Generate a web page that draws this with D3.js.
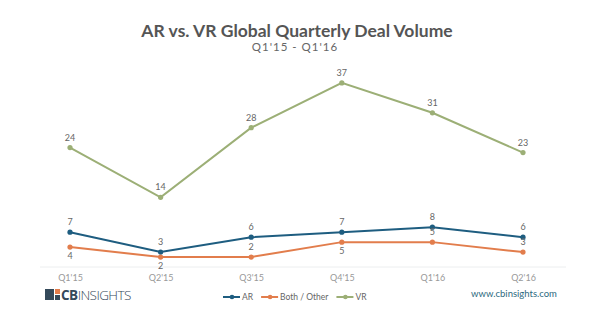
<!DOCTYPE html>
<html><head><meta charset="utf-8">
<script src="https://cdn.jsdelivr.net/npm/d3@7"></script>
<style>body{margin:0;background:#fff;} svg{display:block;font-family:Lato,"Open Sans",sans-serif;}</style>
</head><body>
<svg id="c" width="600" height="321"></svg>
<script>
const categories = ["Q1'15","Q2'15","Q3'15","Q4'15","Q1'16","Q2'16"];
const arValues = [7,3,6,7,8,6];
const bothValues = [4,2,2,5,5,3];
const vrValues = [24,14,28,37,31,23];
const bothLabelSide = ["below","below","above","below","above","above"];
const seriesNames = ["AR","Both / Other","VR"];

const svg = d3.select("#c");
const x = d3.scalePoint().domain(categories).range([70,523]);
const y = d3.scaleLinear().domain([0,40]).range([267,68]);

svg.append("text").attr("x",297).attr("y",37).attr("text-anchor","middle")
  .attr("font-size",17.5).attr("font-weight","bold").attr("fill","#555")
  .text("AR vs. VR Global Quarterly Deal Volume");
svg.append("text").attr("x",295).attr("y",51).attr("text-anchor","middle")
  .attr("font-size",11.5).attr("fill","#666").attr("letter-spacing",1)
  .text("Q1'15 - Q1'16");

svg.append("line").attr("x1",40).attr("x2",566).attr("y1",y(0)).attr("y2",y(0))
  .attr("stroke","#eceeef").attr("stroke-width",1);

const xAxis = d3.axisBottom(x).tickSize(0).tickPadding(0);
const gx = svg.append("g").attr("transform",`translate(0,${y(0)+8})`).call(xAxis);
gx.select(".domain").remove();
gx.selectAll("text").attr("font-size",9).attr("fill","#999").attr("font-family","Lato,sans-serif");

const series = [
  {name:seriesNames[0], values:arValues, color:"#1e5d80"},
  {name:seriesNames[1], values:bothValues, color:"#e27d4c"},
  {name:seriesNames[2], values:vrValues, color:"#9caf76"}
];
const line = d3.line().x((d,i)=>x(categories[i])).y(d=>y(d));
series.forEach(s=>{
  svg.append("path").datum(s.values).attr("d",line).attr("fill","none")
    .attr("stroke",s.color).attr("stroke-width",2);
  svg.selectAll(null).data(s.values).enter().append("circle")
    .attr("cx",(d,i)=>x(categories[i])).attr("cy",d=>y(d)).attr("r",2.6).attr("fill",s.color);
  svg.selectAll(null).data(s.values).enter().append("text")
    .attr("x",(d,i)=>x(categories[i]))
    .attr("y",(d,i)=> (s.name==="Both / Other" && bothLabelSide[i]==="below") ? y(d)+12 : y(d)-7)
    .attr("text-anchor","middle").attr("font-size",9).attr("fill","#666").text(d=>d);
});

// legend
let lx = 223;
series.forEach(s=>{
  const g = svg.append("g").attr("transform",`translate(${lx},297)`);
  g.append("line").attr("x1",0).attr("x2",17).attr("stroke",s.color).attr("stroke-width",2);
  g.append("circle").attr("cx",9).attr("r",2.3).attr("fill",s.color);
  const t = g.append("text").attr("x",19).attr("y",3).attr("font-size",8.5).attr("fill","#666").text(s.name);
  lx += 19 + t.node().getComputedTextLength() + 8;
});

// logo
const logo = svg.append("g").attr("transform","translate(45,289)");
logo.append("rect").attr("x",0).attr("y",0).attr("width",9).attr("height",11).attr("fill","#34495a");
logo.append("rect").attr("x",10).attr("y",0).attr("width",5).attr("height",5).attr("fill","#e27d4c");
logo.append("rect").attr("x",10).attr("y",6).attr("width",5).attr("height",5).attr("fill","#34495a");
const lt = logo.append("text").attr("x",16).attr("y",11).attr("font-size",13.5).attr("fill","#34495a")
  .attr("font-family","'Open Sans',sans-serif");
lt.append("tspan").attr("font-weight","bold").attr("letter-spacing",-0.5).text("CB");
lt.append("tspan").attr("font-weight","300").attr("letter-spacing",-0.6).text("INSIGHTS");

svg.append("text").attr("x",514).attr("y",297).attr("text-anchor","middle")
  .attr("font-size",9.5).attr("fill","#2d6a80").text("www.cbinsights.com");
</script>
</body></html>
